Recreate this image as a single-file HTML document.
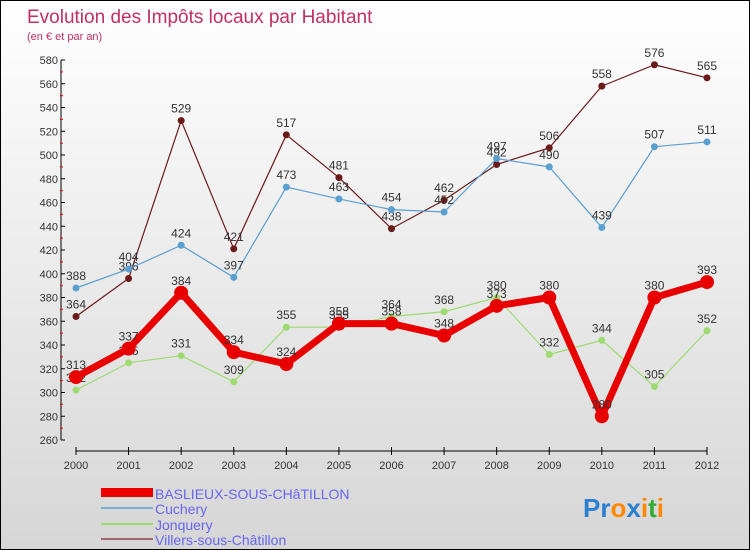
<!DOCTYPE html>
<html><head><meta charset="utf-8"><style>
body{margin:0}
#c{width:748px;height:548px;border:1px solid #000;background:linear-gradient(#fff,#d6d6d6);position:relative;font-family:"Liberation Sans",sans-serif;overflow:hidden}
</style></head><body>
<div id="c">
<svg id="s" width="748" height="548" xmlns="http://www.w3.org/2000/svg" font-family="Liberation Sans, sans-serif">
<text x="26" y="22" font-size="19" fill="#c0305f">Evolution des Impôts locaux par Habitant</text>
<text x="26" y="39" font-size="11" fill="#c0305f">(en € et par an)</text>
<g id="ax"></g><g id="series"></g>
<g>
<rect x="100" y="487" width="52" height="9" fill="#e00"/>
<text x="154" y="498" font-size="14" fill="#6666ee">BASLIEUX-SOUS-CHâTILLON</text>
<rect x="100" y="506" width="52" height="2" fill="#7aaed0"/>
<text x="154" y="513" font-size="14" fill="#6666ee">Cuchery</text>
<rect x="100" y="522" width="52" height="2" fill="#9ddb70"/>
<text x="154" y="529" font-size="14" fill="#6666ee">Jonquery</text>
<rect x="100" y="537" width="52" height="2" fill="#a06868"/>
<text x="154" y="544" font-size="14" fill="#6666ee">Villers-sous-Châtillon</text>
</g>
<text x="582" y="516" font-size="26" font-weight="bold"><tspan fill="#2a7fd0">Pr</tspan><tspan fill="#ff8800">o</tspan><tspan fill="#2a7fd0">x</tspan><tspan fill="#ff8800">i</tspan><tspan fill="#33aa33">t</tspan><tspan fill="#ff8800">i</tspan></text>
</svg></div>
<script>
const years=[2000,2001,2002,2003,2004,2005,2006,2007,2008,2009,2010,2011,2012];
const yTicks=[260,280,300,320,340,360,380,400,420,440,460,480,500,520,540,560,580];
const baslieux=[313,337,384,334,324,358,358,348,373,380,280,380,393];
const cuchery=[388,404,424,397,473,463,454,452,497,490,439,507,511];
const jonquery=[302,325,331,309,355,355,364,368,380,332,344,305,352];
const villers=[364,396,529,421,517,481,438,462,492,506,558,576,565];
const NS="http://www.w3.org/2000/svg";
const xS=i=>75+i*(706-75)/(years.length-1);
const yS=v=>439-(v-260)*(380/320);
function mk(t,a,p){const e=document.createElementNS(NS,t);for(const k in a)e.setAttribute(k,a[k]);p.appendChild(e);return e;}
const ax=document.getElementById('ax');
let e=mk('line',{x1:60,y1:yS(580),x2:60,y2:yS(260),stroke:'#000','stroke-width':1},ax);


yTicks.forEach(v=>{
 mk('line',{x1:60,x2:64,y1:yS(v),y2:yS(v),stroke:'#000'},ax);
 if(v<580)mk('line',{x1:59,x2:62,y1:yS(v+10),y2:yS(v+10),stroke:'#e00'},ax);
 const t=mk('text',{x:57,y:yS(v)+4,'font-size':11,fill:'#333','text-anchor':'end'},ax);t.textContent=v;
 
 
});
e=mk('line',{x1:75,y1:450,x2:706,y2:450,stroke:'#000'},ax);


years.forEach((y,i)=>{
 mk('line',{x1:xS(i),x2:xS(i),y1:446,y2:454,stroke:'#000'},ax);
 const t=mk('text',{x:xS(i),y:468,'font-size':11,fill:'#333','text-anchor':'middle'},ax);t.textContent=y;
 
 
});
const sg=document.getElementById('series');
function draw(d,col,w,r,name){
 const g=mk('g',{},sg);
 
 
 const l=mk('polyline',{points:d.map((v,i)=>xS(i)+','+yS(v)).join(' '),fill:'none',stroke:col,'stroke-width':w,'stroke-linejoin':'round'},g);
 
 
 d.forEach((v,i)=>{
  const c=mk('circle',{cx:xS(i),cy:yS(v),r:r,fill:col},g);
  
  
  const t=mk('text',{x:xS(i),y:yS(v)-8,'font-size':12,fill:'#333','text-anchor':'middle'},g);t.textContent=v;
  
  
 });
}
draw(villers,'#6b1a1a',1.2,3.5,'villers');
draw(cuchery,'#5a9fd0',1.2,3.5,'cuchery');
draw(jonquery,'#9ddb70',1.2,3.5,'jonquery');
draw(baslieux,'#e80000',7,7,'baslieux');
</script>
</body></html>
